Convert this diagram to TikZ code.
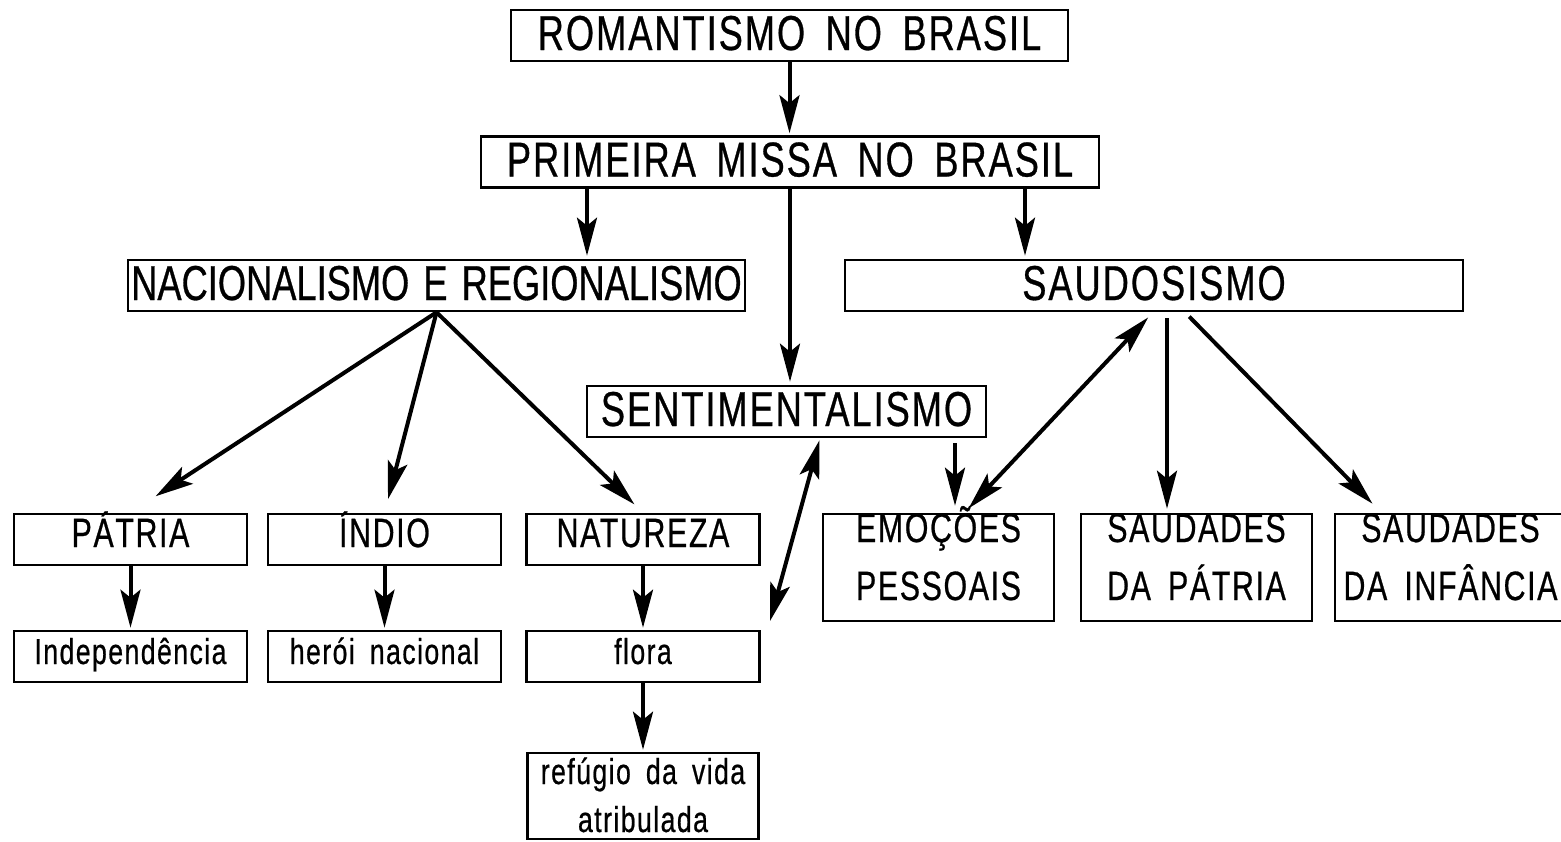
\documentclass[tikz,border=0pt]{standalone}
\usepackage{fontspec}
\setmainfont{Liberation Sans}[FakeStretch=0.74, LetterSpace=4, FakeBold=0.6, WordSpace=1.7]
\newfontfamily\narrowfont{Liberation Sans}[FakeStretch=0.74, FakeBold=0.6, WordSpace=1.4]
\usetikzlibrary{arrows.meta}
% two centred lines in a box of fixed height: height, first baseline, skip, lines
\newcommand{\twolines}[5]{\vbox to #1{\offinterlineskip\vskip #2%
  \hbox to 231pt{\hss\smash{#4}\hss}\vskip #3%
  \hbox to 231pt{\hss\smash{#5}\hss}\vss}}

\begin{document}
\begin{tikzpicture}[x=1pt, y=-1pt,
  >={Stealth[length=38pt, width=20pt, inset=8pt]},
  box/.style={draw, line width=2.6pt, inner sep=0pt},
  head/.style={box, font=\fontsize{49}{55}\selectfont, text height=40pt, text depth=11pt},
  item/.style={box, font=\fontsize{41}{48}\selectfont, minimum width=233pt, text height=33pt, text depth=18pt},
  leaf/.style={box, font=\fontsize{36}{44}\selectfont, minimum width=233pt, text height=33pt, text depth=18pt},
  arr/.style={->, line width=4pt},
  both/.style={<->, line width=4pt}]
\useasboundingbox (0,0) rectangle (1561,841);

\node[head, minimum width=557pt] (rom) at (789.5,35.5) {ROMANTISMO NO BRASIL};
\node[head, minimum width=618pt] (pri) at (790,162) {PRIMEIRA MISSA NO BRASIL};
\node[head, minimum width=617pt, font=\narrowfont\fontsize{49}{55}\selectfont] (nac) at (436.5,285.5) {NACIONALISMO E REGIONALISMO};
\node[head, minimum width=618pt] (sau) at (1154,285.5) {SAUDOSISMO};
\node[head, minimum width=399pt] (sen) at (786.5,411.5) {SENTIMENTALISMO};

\node[item] (pat) at (130.5,539.5) {PÁTRIA};
\node[item] (ind) at (384.5,539.5) {ÍNDIO};
\node[item] (nat) at (643,539.5) {NATUREZA};
\node[box, font=\fontsize{41}{48}\selectfont] (emo) at (938.5,567.5) {\twolines{107pt}{28pt}{58pt}{EMOÇÕES}{PESSOAIS}};
\node[box, font=\fontsize{41}{48}\selectfont] (sdp) at (1196.5,567.5) {\twolines{107pt}{28pt}{58pt}{SAUDADES}{DA PÁTRIA}};
\node[box, font=\fontsize{41}{48}\selectfont] (sdi) at (1450.5,567.5) {\twolines{107pt}{28pt}{58pt}{SAUDADES}{DA INFÂNCIA}};

\node[leaf] (dep) at (130.5,656.5) {Independência};
\node[leaf] (her) at (384.5,656.5) {herói nacional};
\node[leaf] (flo) at (643,656.5) {flora};
\node[box, font=\fontsize{36}{44}\selectfont] (ref) at (643,796) {\twolines{86pt}{31pt}{48pt}{refúgio da vida}{atribulada}};
\coordinate (sfree) at (770,621);

\draw[arr, shorten >=2pt] (rom.south) -- (rom.south |- pri.north);
\draw[arr, shorten >=3pt] ([xshift=-203pt]pri.south) -- ([xshift=-203pt]pri.south |- nac.north);
\draw[arr, shorten >=3pt] (pri.south) -- (pri.south |- sen.north);
\draw[arr, shorten >=3pt] ([xshift=235pt]pri.south) -- ([xshift=235pt]pri.south |- sau.north);

\draw[arr, shorten >=30pt] (nac.south) -- (pat.north);
\draw[arr, shorten >=14pt] (nac.south) -- (ind.north);
\draw[arr, shorten >=12pt] (nac.south) -- (nat.north);
\draw[arr, shorten >=2pt] (pat) -- (dep);
\draw[arr, shorten >=2pt] (ind) -- (her);
\draw[arr, shorten >=2pt] (nat) -- (flo);
\draw[arr, shorten >=2pt] (flo) -- (ref);

\draw[both, shorten <=2pt] ([xshift=33.5pt]sen.south) -- (sfree);
\draw[arr, shorten <=5pt, shorten >=7pt] ([xshift=168.5pt]sen.south) -- ([xshift=168.5pt]sen.south |- emo.north);
\draw[both, shorten <=7pt, shorten >=6pt] ([xshift=-1pt]sau.south) -- ([xshift=26pt]emo.north);
\draw[arr, shorten <=6pt, shorten >=4pt] ([xshift=13pt]sau.south) -- ([xshift=13pt]sau.south |- sdp.north);
\draw[arr, shorten <=6pt] ([xshift=31pt]sau.south) -- ([xshift=-78pt, yshift=9pt]sdi.north);
\end{tikzpicture}
\end{document}
